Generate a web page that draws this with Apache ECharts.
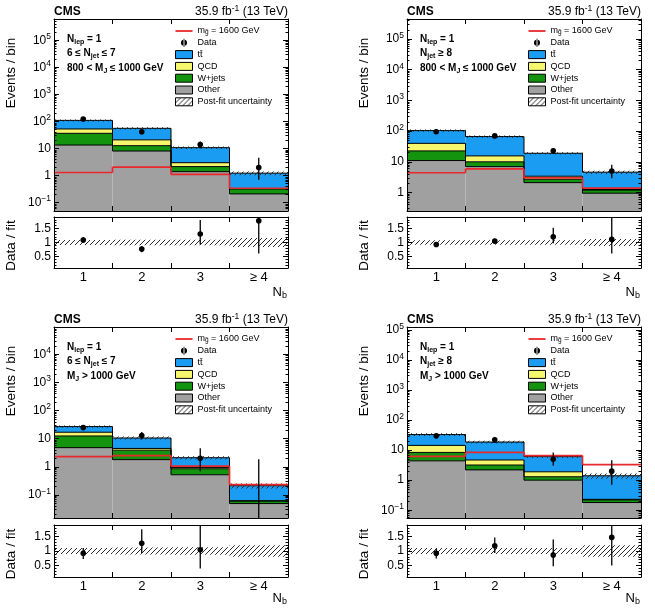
<!DOCTYPE html>
<html>
<head>
<meta charset="utf-8">
<title>CMS N_b distributions</title>
<script src="https://cdn.jsdelivr.net/npm/echarts@6.0.0/dist/echarts.min.js"></script>
<style>
  html, body { margin: 0; padding: 0; background: #fff; }
  #chart { width: 655px; height: 615px; }
</style>
</head>
<body>
<div id="chart"></div>
<script>
// N_b bins
const bins = ['1', '2', '3', '≥ 4']

// one row per panel: top-left, top-right, bottom-left, bottom-right
const other = [
  [13.5, 8.1, 1.4, 0.21],
  [11, 7.0, 2.1, 0.95],
  [4.8, 1.8, 0.52, 0.049],
  [4.4, 2.2, 1.0, 0.18],
]
const wjets = [
  [23.1, 4.7, 0.75, 0.11],
  [11.7, 3.0, 0.6, 0.25],
  [7.7, 2.1, 0.33, 0.011],
  [4.0, 1.0, 0.3, 0.04],
]
const qcd = [
  [16.4, 8.2, 0.85, 0.01],
  [17.3, 5.6, 0.7, 0.05],
  [4.5, 0.6, 0.1, 0.002],
  [6.0, 1.5, 0.6, 0.01],
]
const ttbar = [
  [57, 35, 7.8, 0.9],
  [64, 51, 15.6, 3.35],
  [10, 6.1, 1.15, 0.15],
  [18.6, 13.9, 4.2, 1.17],
]
const signal = [
  [1.3, 2.05, 1.1, 0.34],
  [4.4, 5.9, 3.0, 1.4],
  [2.3, 2.5, 1.05, 0.23],
  [6.2, 8.4, 6.6, 3.3],
]
const dataObs = [
  [123, 42, 14, 2],
  [96, 70, 23, 5],
  [25, 13, 2, 0],
  [30, 22, 5, 2],
]
const dataLow = [
  [112, 35.5, 10.3, 0.7],
  [86, 62, 18.3, 2.9],
  [20, 9.4, 0.7, 0],
  [24.6, 17.4, 3.0, 0.7],
]
const dataHigh = [
  [134, 49.5, 18.3, 4.6],
  [106, 79, 28, 8.0],
  [30, 17.4, 4.6, 1.84],
  [35.5, 27, 8.4, 4.6],
]
// relative post-fit uncertainty
const fitUnc = [
  [0.09, 0.10, 0.10, 0.16],
  [0.08, 0.08, 0.08, 0.12],
  [0.10, 0.12, 0.13, 0.20],
  [0.10, 0.10, 0.10, 0.20],
]
// data / fit
const ratio = [
  [1.09, 0.77, 1.30, 1.77],
  [0.93, 1.05, 1.20, 1.11],
  [0.92, 1.27, 1.04, null],
  [0.92, 1.18, 0.86, 1.47],
]
const ratioLow = [
  [0.99, 0.66, 0.93, 0.61],
  [0.84, 0.97, 0.97, 0.61],
  [0.72, 0.93, 0.39, null],
  [0.74, 0.93, 0.47, 0.50],
]
const ratioHigh = [
  [1.19, 0.88, 1.79, 3.0],
  [1.02, 1.13, 1.52, 2.5],
  [1.10, 1.75, 2.5, null],
  [1.08, 1.47, 1.40, 2.5],
]
const yMin = [0.049, 0.25, 0.015, 0.055]
const yMax = [6.2e5, 4.5e5, 9.5e4, 1.26e5]

const njetText = ['6 ≤ N{sub|jet} ≤ 7', 'N{sub|jet} ≥ 8', '6 ≤ N{sub|jet} ≤ 7', 'N{sub|jet} ≥ 8']
const mjText = ['800 < M{sub|J} ≤ 1000 GeV', '800 < M{sub|J} ≤ 1000 GeV', 'M{sub|J} > 1000 GeV', 'M{sub|J} > 1000 GeV']

const FONT = '"Liberation Sans", Arial, Helvetica, sans-serif'
const TT = 't' + 't\u0304'
const SIG = 'm_g'
const colors = {
  other: '#a0a0a0',
  wjets: '#14930f',
  qcd: '#f7f76e',
  ttbar: '#1a9cf2',
  signal: '#e8282d',
}

const panels = [
  { left: 54, top: 19, height: 192, ratioTop: 217, ratioHeight: 51, titleOff: 24 },
  { left: 407, top: 19, height: 192, ratioTop: 217, ratioHeight: 51, titleOff: 24 },
  { left: 54, top: 327, height: 191, ratioTop: 525, ratioHeight: 52, titleOff: 21 },
  { left: 407, top: 327, height: 191, ratioTop: 525, ratioHeight: 52, titleOff: 21 },
]
const PW = 234

function hatchCanvas() {
  const c = document.createElement('canvas')
  c.width = 5
  c.height = 5
  const g = c.getContext('2d')
  g.strokeStyle = '#2a2a2a'
  g.lineWidth = 1
  g.beginPath()
  g.moveTo(-1, 6); g.lineTo(6, -1)
  g.moveTo(-1, 1); g.lineTo(1, -1)
  g.moveTo(4, 6); g.lineTo(6, 4)
  g.stroke()
  return c
}
const HATCH = { image: hatchCanvas(), repeat: 'repeat' }

// helpers for the custom series
function clampY(cs, y) {
  return Math.max(cs.y, Math.min(cs.y + cs.height, y))
}
function logY(api, cs, v) {
  return v > 0 ? clampY(cs, api.coord([0, v])[1]) : cs.y + cs.height
}
function linY(api, cs, v) {
  return clampY(cs, api.coord([0, v])[1])
}
function binSpan(api, i) {
  const cx = api.coord([i, 1])[0]
  const w = api.size([1, 0])[0]
  return [cx - w / 2, cx + w / 2, cx]
}

const lineStyle = { color: '#000', width: 1 }

function catAxis(gridIndex, position, labels) {
  return {
    type: 'category', gridIndex, position, data: bins, boundaryGap: true, z: 5,
    axisLine: { show: true, onZero: false, lineStyle },
    axisTick: { show: true, inside: true, length: 5, interval: 0, alignWithLabel: false, lineStyle },
    axisLabel: {
      show: labels, interval: 0, margin: 2, color: '#000', fontSize: 13, lineHeight: 14, fontFamily: FONT,
    },
    splitLine: { show: false },
  }
}

function logAxis(gridIndex, position, p, labels) {
  return {
    type: 'log', logBase: 10, gridIndex, position, min: yMin[p], max: yMax[p], z: 5,
    axisLine: { show: true, onZero: false, lineStyle },
    axisTick: { show: true, inside: true, length: 5, lineStyle },
    minorTick: { show: true, splitNumber: 9, length: 2.5, lineStyle },
    splitLine: { show: false },
    minorSplitLine: { show: false },
    axisLabel: {
      show: labels, margin: 3, color: '#000', fontSize: 12, lineHeight: 16, fontFamily: FONT,
      formatter: (v) => {
        const l = Math.log10(v)
        const e = Math.round(l)
        if (Math.abs(l - e) > 1e-6) return ''
        if (e === 0) return '1'
        if (e === 1) return '10'
        return '10{sup|' + (e < 0 ? '−' : '') + Math.abs(e) + '}'
      },
      rich: { sup: { fontSize: 8.5, lineHeight: 9, verticalAlign: 'top', color: '#000', fontFamily: FONT } },
    },
  }
}

function ratioAxis(gridIndex, position, labels) {
  return {
    type: 'value', gridIndex, position, min: 0.1, max: 1.9, splitNumber: 4, z: 5,
    axisLine: { show: true, onZero: false, lineStyle },
    axisTick: { show: true, inside: true, length: 5, lineStyle },
    minorTick: { show: true, splitNumber: 5, length: 2.5, lineStyle },
    splitLine: { show: false },
    minorSplitLine: { show: false },
    axisLabel: {
      show: labels, margin: 3, color: '#000', fontSize: 12, fontFamily: FONT,
      formatter: (v) => ([0.5, 1, 1.5].some((t) => Math.abs(t - v) < 1e-6) ? String(v) : ''),
    },
  }
}

function fillSeries(name, p, lower, upper, color) {
  return {
    type: 'custom', name, xAxisIndex: 4 * p, yAxisIndex: 4 * p, silent: true,
    itemStyle: { color },
    data: bins.map((b, i) => [i, upper[i], lower[i]]),
    renderItem(params, api) {
      const cs = params.coordSys
      const [x0, x1] = binSpan(api, api.value(0))
      const yTop = logY(api, cs, api.value(1))
      const yBot = logY(api, cs, api.value(2))
      return {
        type: 'rect',
        shape: { x: x0, y: yTop, width: x1 - x0, height: yBot - yTop },
        style: { fill: color },
      }
    },
  }
}

function outlineSeries(p, levels) {
  const n = levels.length
  return {
    type: 'custom', xAxisIndex: 4 * p, yAxisIndex: 4 * p, silent: true,
    data: bins.map((b, i) => [i, ...levels.map((l) => l[i]), ...levels.map((l) => (i > 0 ? l[i - 1] : l[i]))]),
    renderItem(params, api) {
      const cs = params.coordSys
      const i = api.value(0)
      const [x0, x1] = binSpan(api, i)
      const children = []
      for (let k = 0; k < n; k++) {
        const y = logY(api, cs, api.value(1 + k))
        const yp = logY(api, cs, api.value(1 + n + k))
        children.push({ type: 'line', shape: { x1: x0, y1: y, x2: x1, y2: y }, style: { stroke: '#000', lineWidth: 1 } })
        if (i > 0) {
          children.push({ type: 'line', shape: { x1: x0, y1: yp, x2: x0, y2: y }, style: { stroke: '#000', lineWidth: 1 } })
        }
      }
      return { type: 'group', children }
    },
  }
}

function bandSeries(xi, yi, hi, lo, yFn) {
  return {
    type: 'custom', name: 'Post-fit uncertainty', xAxisIndex: xi, yAxisIndex: yi, silent: true,
    itemStyle: { color: '#333' },
    data: bins.map((b, i) => [i, hi[i], lo[i]]),
    renderItem(params, api) {
      const cs = params.coordSys
      const [x0, x1] = binSpan(api, api.value(0))
      const yTop = yFn(api, cs, api.value(1))
      const yBot = yFn(api, cs, api.value(2))
      return {
        type: 'rect',
        shape: { x: x0, y: yTop, width: x1 - x0, height: yBot - yTop },
        style: { fill: HATCH },
      }
    },
  }
}

function signalSeries(p) {
  const s = signal[p]
  return {
    type: 'custom', name: SIG, xAxisIndex: 4 * p, yAxisIndex: 4 * p, silent: true,
    itemStyle: { color: colors.signal },
    data: bins.map((b, i) => [i, s[i], i > 0 ? s[i - 1] : s[i]]),
    renderItem(params, api) {
      const cs = params.coordSys
      const i = api.value(0)
      const [x0, x1] = binSpan(api, i)
      const y = logY(api, cs, api.value(1))
      const yp = logY(api, cs, api.value(2))
      const st = { stroke: colors.signal, lineWidth: 1.7 }
      const children = [{ type: 'line', shape: { x1: x0, y1: y, x2: x1, y2: y }, style: st }]
      if (i > 0) children.push({ type: 'line', shape: { x1: x0, y1: yp, x2: x0, y2: y }, style: st })
      return { type: 'group', children }
    },
  }
}

function pointSeries(xi, yi, vals, lows, highs, yFn, positive) {
  return {
    type: 'custom', name: 'Data', xAxisIndex: xi, yAxisIndex: yi, silent: true,
    itemStyle: { color: '#000' },
    data: bins.map((b, i) => [i, vals[i], lows[i], highs[i]]).filter((d) => d[1] != null),
    renderItem(params, api) {
      const cs = params.coordSys
      const cx = binSpan(api, api.value(0))[2]
      const v = api.value(1)
      const children = [{
        type: 'line',
        shape: { x1: cx, y1: yFn(api, cs, api.value(2)), x2: cx, y2: yFn(api, cs, api.value(3)) },
        style: { stroke: '#000', lineWidth: 1.3 },
      }]
      if (!positive || v > 0) {
        children.push({ type: 'circle', shape: { cx, cy: yFn(api, cs, v), r: 2.8 }, style: { fill: '#000' } })
      }
      return { type: 'group', children }
    },
  }
}

function text(x, y, str, extra) {
  return {
    type: 'text', x, y, silent: true,
    style: Object.assign({
      text: str, fill: '#000', fontFamily: FONT, fontSize: 12, verticalAlign: 'middle', align: 'left',
    }, extra),
  }
}

const grid = []
const xAxis = []
const yAxis = []
const series = []
const legend = []
const graphic = []

const supRich = { sup: { fontSize: 8.5, lineHeight: 9, verticalAlign: 'top', fill: '#000', fontFamily: FONT } }
const subBold = {
  sub: { fontSize: 7, lineHeight: 7, verticalAlign: 'bottom', fontWeight: 'bold', fill: '#000', fontFamily: FONT },
}

panels.forEach((L, p) => {
  grid.push({ left: L.left, top: L.top, width: PW, height: L.height, outerBoundsMode: 'none' })
  grid.push({ left: L.left, top: L.ratioTop, width: PW, height: L.ratioHeight, outerBoundsMode: 'none' })
  const gMain = 2 * p
  const gRatio = 2 * p + 1
  xAxis.push(catAxis(gMain, 'bottom', false), catAxis(gMain, 'top', false),
    catAxis(gRatio, 'bottom', true), catAxis(gRatio, 'top', false))
  yAxis.push(logAxis(gMain, 'left', p, true), logAxis(gMain, 'right', p, false),
    ratioAxis(gRatio, 'left', true), ratioAxis(gRatio, 'right', false))

  // stacked backgrounds
  const layers = [
    ['Other', other[p], colors.other],
    ['W+jets', wjets[p], colors.wjets],
    ['QCD', qcd[p], colors.qcd],
    [TT, ttbar[p], colors.ttbar],
  ]
  let lower = bins.map(() => 0)
  const levels = []
  layers.forEach(([name, arr, color]) => {
    const upper = lower.map((v, i) => v + arr[i])
    series.push(fillSeries(name, p, lower, upper, color))
    levels.push(upper)
    lower = upper
  })
  series.push(outlineSeries(p, levels))
  const total = levels[levels.length - 1]
  series.push(bandSeries(4 * p, 4 * p,
    total.map((t, i) => t * (1 + fitUnc[p][i])), total.map((t, i) => t * (1 - fitUnc[p][i])), logY))
  series.push(signalSeries(p))
  series.push(pointSeries(4 * p, 4 * p, dataObs[p], dataLow[p], dataHigh[p], logY, true))

  // ratio panel
  series.push(bandSeries(4 * p + 2, 4 * p + 2,
    fitUnc[p].map((u) => 1 + u), fitUnc[p].map((u) => 1 - u), linY))
  series.push(pointSeries(4 * p + 2, 4 * p + 2, ratio[p], ratioLow[p], ratioHigh[p], linY, false))

  legend.push({
    orient: 'vertical', left: L.left + 121, top: L.top + 7,
    itemWidth: 17, itemHeight: 8, itemGap: 1.8, selectedMode: false, padding: 0,
    textStyle: {
      fontSize: 9, fontFamily: FONT, color: '#000', lineHeight: 10,
      rich: { sub: { fontSize: 6.5, lineHeight: 6, verticalAlign: 'bottom', color: '#000', fontFamily: FONT } },
    },
    formatter: (n) => (n === SIG ? 'm{sub|g̃} = 1600 GeV' : n),
    data: [
      { name: SIG, icon: 'path://M0,0H17V1.8H0Z', itemStyle: { color: colors.signal, borderWidth: 0 } },
      {
        name: 'Data',
        icon: 'path://M-0.4,-3.4H0.4V3.4H-0.4Z M-2.6,0A2.6,2.6 0 1 0 2.6,0A2.6,2.6 0 1 0 -2.6,0Z',
        itemStyle: { color: '#000', borderWidth: 0 },
      },
      { name: TT, icon: 'rect', itemStyle: { color: colors.ttbar, borderColor: '#000', borderWidth: 1 } },
      { name: 'QCD', icon: 'rect', itemStyle: { color: colors.qcd, borderColor: '#000', borderWidth: 1 } },
      { name: 'W+jets', icon: 'rect', itemStyle: { color: colors.wjets, borderColor: '#000', borderWidth: 1 } },
      { name: 'Other', icon: 'rect', itemStyle: { color: colors.other, borderColor: '#000', borderWidth: 1 } },
      { name: 'Post-fit uncertainty', icon: 'rect', itemStyle: { color: HATCH, borderColor: '#000', borderWidth: 1 } },
    ],
  })

  // texts
  graphic.push(
    text(L.left, L.top - 7, 'CMS', { fontWeight: 'bold', fontSize: 12 }),
    text(L.left + PW, L.top - 7, '35.9 fb{sup|-1} (13 TeV)', { align: 'right', lineHeight: 16, rich: supRich }),
    text(L.left + 13, L.top + 20, 'N{sub|lep} = 1', { fontWeight: 'bold', fontSize: 10, lineHeight: 13, rich: subBold }),
    text(L.left + 13, L.top + 34, njetText[p], { fontWeight: 'bold', fontSize: 10, lineHeight: 13, rich: subBold }),
    text(L.left + 13, L.top + 49, mjText[p], { fontWeight: 'bold', fontSize: 10, lineHeight: 13, rich: subBold }),
    Object.assign(text(L.left - 43, L.top + 54, 'Events / bin', { fontSize: 13.5, align: 'center' }), { rotation: Math.PI / 2 }),
    Object.assign(text(L.left - 43, L.ratioTop + L.ratioHeight / 2 + 3, 'Data / fit', { fontSize: 13.5, align: 'center' }), { rotation: Math.PI / 2 }),
    text(L.left + PW - 1, L.ratioTop + L.ratioHeight + L.titleOff, 'N{sub|b}', {
      align: 'right', fontSize: 13, lineHeight: 16,
      rich: { sub: { fontSize: 9, lineHeight: 8, verticalAlign: 'bottom', fill: '#000', fontFamily: FONT } },
    }),
  )
})

const chart = echarts.init(document.getElementById('chart'), null, { renderer: 'canvas' })
chart.setOption({
  backgroundColor: '#fff',
  animation: false,
  grid,
  xAxis,
  yAxis,
  legend,
  series,
  graphic,
})
</script>
</body>
</html>
